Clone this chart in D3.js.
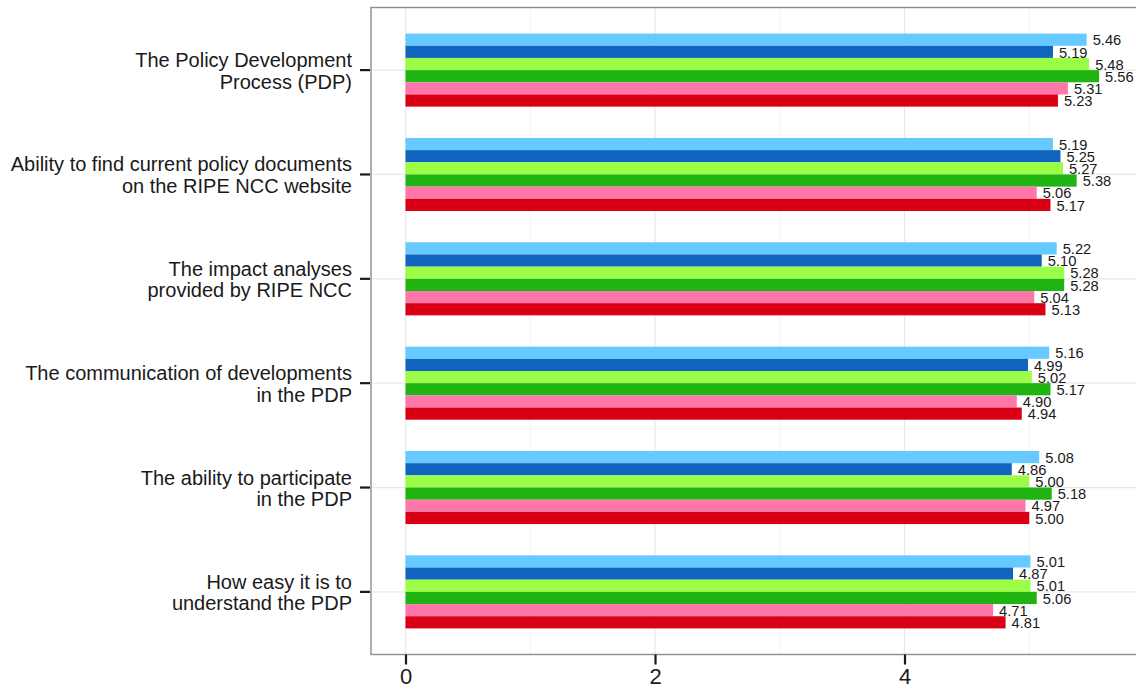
<!DOCTYPE html>
<html>
<head>
<meta charset="utf-8">
<script src="https://cdn.jsdelivr.net/npm/d3@7"></script>
<style>
  html, body { margin: 0; padding: 0; background: #fff; }
  svg { display: block; font-family: "Liberation Sans", Arial, Helvetica, sans-serif; }
</style>
</head>
<body>
<svg id="chart" width="1136" height="695"></svg>
<script>
// ---- data ----
const categories = [
  ["The Policy Development", "Process (PDP)"],
  ["Ability to find current policy documents", "on the RIPE NCC website"],
  ["The impact analyses", "provided by RIPE NCC"],
  ["The communication of developments", "in the PDP"],
  ["The ability to participate", "in the PDP"],
  ["How easy it is to", "understand the PDP"]
];
const seriesNames = ["Series 1", "Series 2", "Series 3", "Series 4", "Series 5", "Series 6"];
const seriesColors = ["#66c9ff", "#1164bd", "#9bfd45", "#1fb412", "#ff77aa", "#d90016"];
// values per series, in category order
const s1 = [5.46, 5.19, 5.22, 5.16, 5.08, 5.01];
const s2 = [5.19, 5.25, 5.10, 4.99, 4.86, 4.87];
const s3 = [5.48, 5.27, 5.28, 5.02, 5.00, 5.01];
const s4 = [5.56, 5.38, 5.28, 5.17, 5.18, 5.06];
const s5 = [5.31, 5.06, 5.04, 4.90, 4.97, 4.71];
const s6 = [5.23, 5.17, 5.13, 4.94, 5.00, 4.81];
const seriesValues = [s1, s2, s3, s4, s5, s6];
const xTicks = [0, 2, 4];
const xMinorTicks = [1, 3, 5];

// ---- layout ----
const svg = d3.select("#chart");
const panel = { left: 371, top: 7.5, bottom: 654.5 };
const x = d3.scaleLinear().domain([-0.2766, 5.9]).range([panel.left, panel.left + 6.1766 * 124.75]);
const catKeys = categories.map((c, i) => i);
const y = d3.scaleBand().domain(catKeys).range([panel.top, panel.bottom]).paddingInner(0.3).paddingOuter(0.25);
const ySub = d3.scaleBand().domain(seriesNames).range([0, y.bandwidth()]);

const rows = [];
catKeys.forEach(ci => seriesNames.forEach((s, si) => rows.push({ ci, s, si, v: seriesValues[si][ci] })));

// clip for panel
svg.append("defs").append("clipPath").attr("id", "pclip")
  .append("rect").attr("x", panel.left).attr("y", panel.top)
  .attr("width", 1136 - panel.left + 10).attr("height", panel.bottom - panel.top);

const g = svg.append("g").attr("clip-path", "url(#pclip)");

// minor grid
g.selectAll(".minor").data(xMinorTicks).join("line")
  .attr("x1", d => x(d)).attr("x2", d => x(d))
  .attr("y1", panel.top).attr("y2", panel.bottom)
  .attr("stroke", "#f3f3f3").attr("stroke-width", 1);
// major grid
g.selectAll(".major").data(xTicks).join("line")
  .attr("x1", d => x(d)).attr("x2", d => x(d))
  .attr("y1", panel.top).attr("y2", panel.bottom)
  .attr("stroke", "#e8e8e8").attr("stroke-width", 1.2);
g.selectAll(".hgrid").data(catKeys).join("line")
  .attr("x1", panel.left).attr("x2", 1140)
  .attr("y1", d => y(d) + y.bandwidth() / 2).attr("y2", d => y(d) + y.bandwidth() / 2)
  .attr("stroke", "#e8e8e8").attr("stroke-width", 1.2);

// bars
g.selectAll(".bar").data(rows).join("rect")
  .attr("x", x(0))
  .attr("y", d => y(d.ci) + ySub(d.s))
  .attr("width", d => x(d.v) - x(0))
  .attr("height", ySub.bandwidth())
  .attr("fill", d => seriesColors[d.si]);

// value labels
g.selectAll(".lbl").data(rows).join("text")
  .attr("x", d => x(d.v) + 6)
  .attr("y", d => y(d.ci) + ySub(d.s) + ySub.bandwidth() / 2 + 5.7)
  .attr("font-size", 14.7)
  .attr("fill", "#1a1a1a")
  .text(d => d.v.toFixed(2));

// panel border (left, top, bottom; right edge off-canvas)
svg.append("rect")
  .attr("x", panel.left).attr("y", panel.top)
  .attr("width", 1200 - panel.left).attr("height", panel.bottom - panel.top)
  .attr("fill", "none").attr("stroke", "#8c8c8c").attr("stroke-width", 1.4);

// x axis
const xAxis = svg.append("g").attr("transform", `translate(0,${panel.bottom})`)
  .call(d3.axisBottom(x).tickValues(xTicks).tickFormat(d3.format("d")).tickSize(10).tickPadding(4));
xAxis.select(".domain").remove();
xAxis.selectAll(".tick line").attr("stroke", "#1a1a1a").attr("stroke-width", 2.2);
xAxis.selectAll(".tick text").attr("font-size", 22).attr("fill", "#1a1a1a")
  .attr("font-family", "Liberation Sans, Arial, sans-serif");

// y axis ticks
svg.selectAll(".ytick").data(catKeys).join("line")
  .attr("x1", panel.left - 11).attr("x2", panel.left - 1)
  .attr("y1", d => y(d) + y.bandwidth() / 2).attr("y2", d => y(d) + y.bandwidth() / 2)
  .attr("stroke", "#1a1a1a").attr("stroke-width", 2.2);

// y labels
const yl = svg.selectAll(".ylab").data(catKeys).join("text")
  .attr("text-anchor", "end")
  .attr("font-size", 20)
  .attr("fill", "#1a1a1a");
yl.each(function (d) {
  const cy = y(d) + y.bandwidth() / 2;
  const lines = categories[d];
  d3.select(this).selectAll("tspan").data(lines).join("tspan")
    .attr("x", 352)
    .attr("y", (t, i) => cy - 3 + i * 21.6)
    .text(t => t);
});
</script>
</body>
</html>
